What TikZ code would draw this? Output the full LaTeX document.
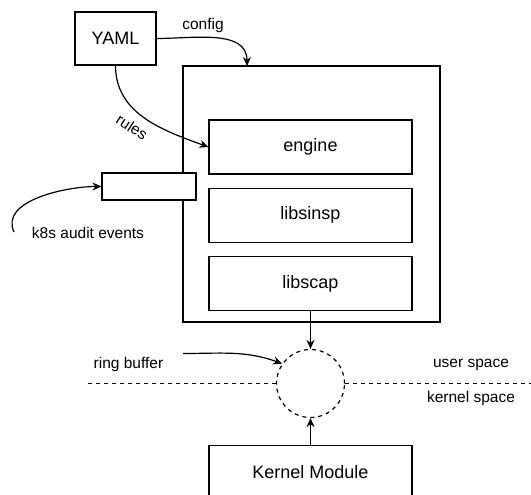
\documentclass[tikz,border=0pt]{standalone}
\usepackage{fontspec}
\setmainfont{Liberation Sans}
\usepackage{tikz}
\usetikzlibrary{arrows.meta,positioning}

\begin{document}
\begin{tikzpicture}[x=1pt,y=-1pt,line width=1.2pt,
		box/.style={draw,rectangle,fill=white,font=\fontsize{18}{20}\selectfont,minimum width=203pt,minimum height=54pt,inner sep=0pt},
		lbl/.style={font=\fontsize{15.5}{18}\selectfont,inner sep=0pt},
		arr/.style={-{Stealth[length=9pt,width=8pt]}},
		sep/.style={dash pattern=on 4pt off 4pt}]
		\useasboundingbox (0,0) rectangle (531,495);
		% falco userspace
		\node[box,minimum width=257pt,minimum height=256pt] (falco) at (311.5,194) {};
		\node[box] (engine) at (310.5,147) {engine};
		\node[box,below=13pt of engine] (libsinsp) {libsinsp};
		\node[box,below=13pt of libsinsp] (libscap) {libscap};
		\node[box,minimum width=81pt,minimum height=53pt] (yaml) at (115.5,38.5) {YAML};
		\node[box,minimum width=94pt,minimum height=27pt] (audit) at (149,186.5) {};
		% kernel side
		\node[circle,draw,sep,minimum size=68pt,inner sep=0pt] (ring) at (310.5,383.5) {};
		\node[box,minimum width=203pt] (kmod) at (310.5,472.5) {Kernel Module};
		\coordinate (cfgin) at (247,66);
		\coordinate (evsrc) at (14,232);
		\coordinate (rbsrc) at (183,353.5);
		\coordinate (sepl) at (88,383.5);
		\coordinate (sepr) at (531,383.5);
		% connectors
		\draw[arr] (yaml.east) to[out=0,in=90] (cfgin);
		\draw[arr] (yaml.south) to[out=-90,in=160] (engine.west);
		\draw[arr] (evsrc) to[out=115,in=180,looseness=0.9] (audit.west);
		\draw[arr] (rbsrc) to[out=0,in=160] (ring.145);
		\draw[arr] (libscap.south) -- (ring.north);
		\draw[arr] (kmod.north) -- (ring.south);
		\draw[sep] (sepl) -- (ring.west);
		\draw[sep] (ring.east) -- (sepr);
		% labels
		\node[lbl] (cfglbl) at (203,25) {config};
		\node[lbl,rotate=-33] (ruleslbl) at (132,127) {rules};
		\node[lbl] (evlbl) at (88,233) {k8s audit events};
		\node[lbl] (rblbl) at (128.5,364) {ring buffer};
		\node[lbl] (userlbl) at (471,365) {user space};
		\node[lbl] (kernlbl) at (471,398) {kernel space};
	\end{tikzpicture}
\end{document}
